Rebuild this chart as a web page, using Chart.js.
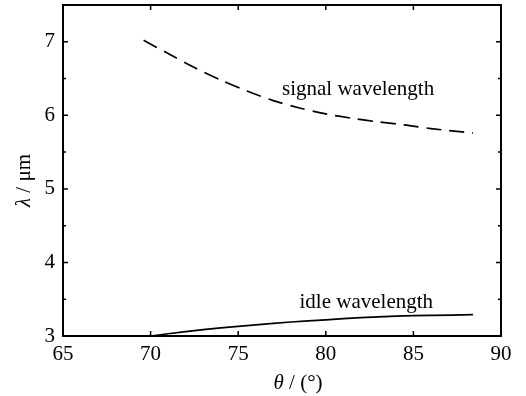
<!DOCTYPE html>
<html lang="en">
<head>
<meta charset="UTF-8">
<title>signal / idle wavelength</title>
<script src="https://cdn.jsdelivr.net/npm/chart.js"></script>
<style>
  html, body { margin: 0; padding: 0; background: #fff; }
  #caixa { width: 526px; height: 396px; }
</style>
</head>
<body>
<div id="caixa"><canvas id="grafico"></canvas></div>
<script>
// dados
const anguloSinal = [69.6, 71, 72.5, 74, 75.5, 77, 78.5, 80, 81.5, 83, 84.5, 86, 88.4];
const lambdaSinal = [7.02, 6.84, 6.65, 6.48, 6.33, 6.20, 6.10, 6.02, 5.96, 5.91, 5.87, 5.82, 5.76];

const anguloIdle = [70, 72, 74, 76, 78, 80, 82, 84, 86, 88.4];
const lambdaIdle = [3.0, 3.06, 3.11, 3.15, 3.19, 3.22, 3.25, 3.27, 3.28, 3.29];

const ticksX = [65, 70, 75, 80, 85, 90];
const ticksY = [3, 4, 5, 6, 7];
const ticksYmenor = [3.5, 4.5, 5.5, 6.5, 7.5];

const serif = "'Liberation Serif', 'DejaVu Serif', serif";

function pontos(xs, ys) {
  return xs.map(function (x, i) { return { x: x, y: ys[i] }; });
}

// moldura, ticks para dentro, textos
const extras = {
  id: 'extras',
  afterDraw(chart) {
    const ctx = chart.ctx;
    const a = chart.chartArea;
    const sx = chart.scales.x, sy = chart.scales.y;
    ctx.save();
    ctx.strokeStyle = '#000';
    ctx.lineWidth = 1.5;
    ticksX.forEach(function (v) {
      const px = sx.getPixelForValue(v);
      ctx.beginPath();
      ctx.moveTo(px, a.bottom); ctx.lineTo(px, a.bottom - 5);
      ctx.moveTo(px, a.top); ctx.lineTo(px, a.top + 5);
      ctx.stroke();
    });
    ticksY.forEach(function (v) {
      const py = sy.getPixelForValue(v);
      ctx.beginPath();
      ctx.moveTo(a.left, py); ctx.lineTo(a.left + 5, py);
      ctx.moveTo(a.right, py); ctx.lineTo(a.right - 5, py);
      ctx.stroke();
    });
    ticksYmenor.forEach(function (v) {
      const py = sy.getPixelForValue(v);
      ctx.beginPath();
      ctx.moveTo(a.left, py); ctx.lineTo(a.left + 3, py);
      ctx.moveTo(a.right, py); ctx.lineTo(a.right - 3, py);
      ctx.stroke();
    });
    ctx.lineWidth = 2;
    ctx.strokeRect(a.left, a.top, a.right - a.left, a.bottom - a.top);

    ctx.fillStyle = '#000';
    ctx.font = '21px ' + serif;
    ctx.textBaseline = 'middle';
    ctx.textAlign = 'left';
    ctx.fillText('signal wavelength', sx.getPixelForValue(77.5), sy.getPixelForValue(6.35));
    ctx.fillText('idle wavelength', sx.getPixelForValue(78.5), sy.getPixelForValue(3.45));

    // titulos dos eixos (letra grega em italico)
    function misto(partes, cx, cy, rot) {
      ctx.save();
      ctx.translate(cx, cy);
      ctx.rotate(rot);
      let total = 0;
      partes.forEach(function (p) { ctx.font = p[1] + ' 21px ' + serif; total += ctx.measureText(p[0]).width; });
      let x = -total / 2;
      partes.forEach(function (p) {
        ctx.font = p[1] + ' 21px ' + serif;
        ctx.fillText(p[0], x, 0);
        x += ctx.measureText(p[0]).width;
      });
      ctx.restore();
    }
    misto([['θ', 'italic'], [' / (°)', 'normal']], (a.left + a.right) / 2 + 16, a.bottom + 47, 0);
    misto([['λ', 'italic'], [' / μm', 'normal']], a.left - 39, (a.top + a.bottom) / 2 + 10, -Math.PI / 2);
    ctx.restore();
  }
};

new Chart(document.getElementById('grafico'), {
  type: 'scatter',
  data: {
    datasets: [{
      label: 'signal wavelength',
      data: pontos(anguloSinal, lambdaSinal),
      showLine: true,
      borderColor: '#000',
      borderWidth: 1.7,
      borderDash: [15, 8],
      pointRadius: 0,
      tension: 0.3
    }, {
      label: 'idle wavelength',
      data: pontos(anguloIdle, lambdaIdle),
      showLine: true,
      borderColor: '#000',
      borderWidth: 1.7,
      pointRadius: 0,
      tension: 0.3
    }]
  },
  options: {
    responsive: true,
    maintainAspectRatio: false,
    animation: false,
    layout: { padding: { top: 5, right: 25, left: 0, bottom: 0 } },
    plugins: { legend: { display: false }, tooltip: { enabled: false } },
    scales: {
      x: {
        type: 'linear',
        min: 65, max: 90,
        afterBuildTicks: function (s) { s.ticks = ticksX.map(function (v) { return { value: v }; }); },
        afterFit: function (s) { s.height = 60; s.paddingLeft = 0; s.paddingRight = 0; },
        grid: { display: false, drawTicks: false },
        border: { display: false },
        ticks: { color: '#000', padding: 6, maxRotation: 0, font: { family: serif, size: 21 } }
      },
      y: {
        min: 3, max: 7.5,
        afterBuildTicks: function (s) { s.ticks = ticksY.map(function (v) { return { value: v }; }); },
        afterFit: function (s) { s.width = 63; s.paddingTop = 0; s.paddingBottom = 0; },
        grid: { display: false, drawTicks: false },
        border: { display: false },
        ticks: { color: '#000', padding: 8, font: { family: serif, size: 21 } }
      }
    }
  },
  plugins: [extras]
});
</script>
</body>
</html>
